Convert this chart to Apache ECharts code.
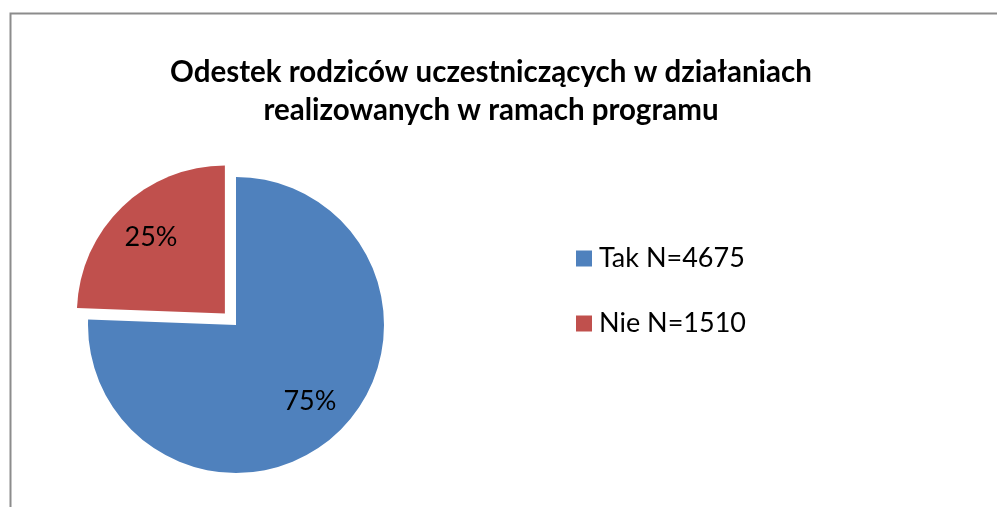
<!DOCTYPE html>
<html>
<head>
<meta charset="utf-8">
<script src="https://cdn.jsdelivr.net/npm/echarts@6/dist/echarts.min.js"></script>
<style>html,body{margin:0;padding:0;background:#fff}#c{width:997px;height:507px}</style>
</head>
<body>
<div id="c"></div>
<script>
var categories = ['Tak N=4675', 'Nie N=1510'];
var values = [4675, 1510];
var pctLabels = ['75%', '25%'];
var colors = ['#4F81BD', '#C0504D'];
var titleText = 'Odestek rodziców uczestniczących w działaniach\nrealizowanych w ramach programu';

var chart = echarts.init(document.getElementById('c'), null, {renderer: 'canvas'});
var font = 'Lato, "Open Sans", sans-serif';
function mkData(withLabel) {
  return categories.map(function (c, i) {
    return {name: c, value: values[i], selected: i === 1,
      itemStyle: withLabel ? {color: 'rgba(0,0,0,0)'} : {color: colors[i]}};
  });
}
chart.setOption({
  animation: false,
  color: colors,
  graphic: [{type: 'rect', shape: {x: 10.5, y: 13.5, width: 1000, height: 510},
    style: {fill: 'none', stroke: '#8c8c8c', lineWidth: 2}, silent: true, z: -10}],
  title: {text: titleText, left: 486, textAlign: 'center', top: 48,
    textStyle: {fontFamily: font, fontWeight: 'bold', fontSize: 29.5, lineHeight: 38, color: '#000'}},
  legend: {orient: 'vertical', left: 571, top: 240, itemWidth: 16, itemHeight: 16, itemGap: 38,
    icon: 'rect', selectedMode: false,
    textStyle: {fontFamily: font, fontSize: 27, color: '#000', padding: [0, 0, 0, 2]}},
  series: [{
    type: 'pie', center: [236, 325], radius: 148, startAngle: 90, clockwise: true,
    selectedMode: 'single', selectedOffset: 16, silent: true,
    label: {show: false}, labelLine: {show: false},
    data: mkData(false)
  }, {
    type: 'pie', center: [236, 325], radius: 207, startAngle: 90, clockwise: true,
    selectedMode: 'single', selectedOffset: 16, silent: true,
    label: {show: true, position: 'inside', fontFamily: font, fontSize: 27, color: '#000',
      formatter: function (p) { return pctLabels[p.dataIndex]; }},
    labelLine: {show: false},
    data: mkData(true)
  }]
});
</script>
</body>
</html>
